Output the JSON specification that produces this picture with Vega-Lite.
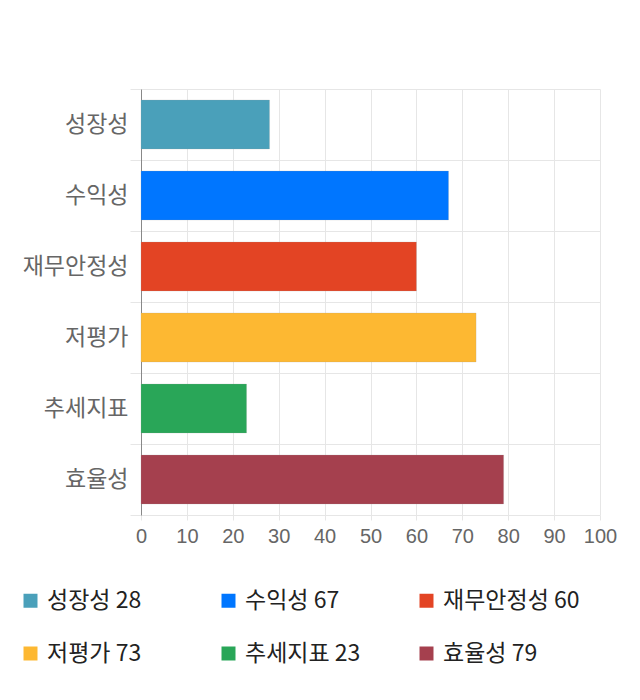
{
  "$schema": "https://vega.github.io/schema/vega-lite/v6.json",
  "autosize": "none",
  "width": 459,
  "height": 426,
  "padding": {"left": 141, "top": 89, "right": 40, "bottom": 185},
  "background": "white",
  "data": {
    "values": [
      {"name": "성장성", "value": 28, "label": "성장성 28"},
      {"name": "수익성", "value": 67, "label": "수익성 67"},
      {"name": "재무안정성", "value": 60, "label": "재무안정성 60"},
      {"name": "저평가", "value": 73, "label": "저평가 73"},
      {"name": "추세지표", "value": 23, "label": "추세지표 23"},
      {"name": "효율성", "value": 79, "label": "효율성 79"}
    ]
  },
  "mark": {"type": "bar", "height": {"band": 0.69}, "stroke": "#999999", "strokeWidth": 0.6, "strokeOpacity": 0.35},
  "encoding": {
    "y": {
      "field": "name",
      "type": "nominal",
      "sort": null,
      "title": null,
      "scale": {"paddingInner": 0, "paddingOuter": 0},
      "axis": {
        "grid": true,
        "tickBand": "extent",
        "gridColor": "#e6e6e6",
        "tickColor": "#e6e6e6",
        "tickSize": 11,
        "domainColor": "#888888",
        "labelFontSize": 23,
        "labelColor": "#666666",
        "labelPadding": 2,
        "labelFont": "Noto Sans CJK KR",
        "labelLimit": 200
      }
    },
    "x": {
      "field": "value",
      "type": "quantitative",
      "title": null,
      "scale": {"domain": [0, 100], "nice": false},
      "axis": {
        "values": [0, 10, 20, 30, 40, 50, 60, 70, 80, 90, 100],
        "grid": true,
        "gridColor": "#e6e6e6",
        "tickColor": "#e6e6e6",
        "tickSize": 5,
        "domain": false,
        "labelFontSize": 20,
        "labelColor": "#666666",
        "labelPadding": 6,
        "labelFlush": false,
        "labelOverlap": false,
        "labelFont": "Liberation Sans"
      }
    },
    "color": {
      "field": "label",
      "type": "nominal",
      "sort": null,
      "scale": {
        "domain": ["성장성 28", "수익성 67", "재무안정성 60", "저평가 73", "추세지표 23", "효율성 79"],
        "range": ["#4aa0ba", "#0076ff", "#e34424", "#fdb832", "#29a658", "#a5404e"]
      },
      "legend": {
        "title": null,
        "orient": "none",
        "legendX": -122,
        "legendY": 500,
        "direction": "horizontal",
        "columns": 3,
        "gridAlign": "all",
        "columnPadding": 33,
        "rowPadding": 29,
        "symbolType": "square",
        "symbolSize": 196,
        "symbolStrokeWidth": 0,
        "symbolOpacity": 1,
        "labelFontSize": 23,
        "labelColor": "#222222",
        "labelFont": "Liberation Sans Narrow, Noto Sans CJK KR",
        "labelOffset": 5,
        "labelLimit": 300
      }
    }
  },
  "config": {"view": {"stroke": null}}
}
